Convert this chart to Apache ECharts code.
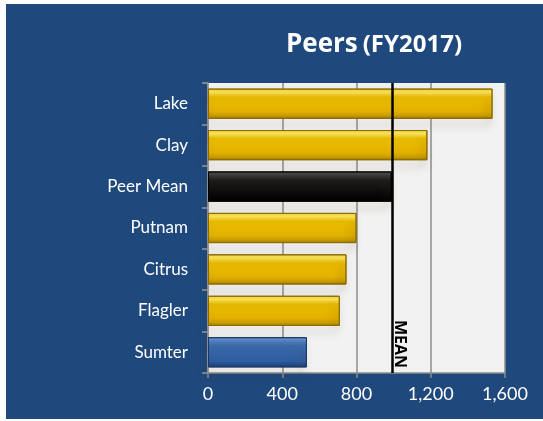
<!DOCTYPE html>
<html>
<head>
<meta charset="utf-8">
<script src="https://cdn.jsdelivr.net/npm/echarts@6/dist/echarts.min.js"></script>
<style>
html,body{margin:0;padding:0;background:#fff;}
#wrap{position:absolute;left:6px;top:4px;width:537px;height:415px;background:#1f497d;}
#chart{position:absolute;left:-6px;top:-4px;width:543px;height:421px;}
</style>
</head>
<body>
<div id="wrap"><div id="chart"></div></div>
<script>
const categories = ['Lake', 'Clay', 'Peer Mean', 'Putnam', 'Citrus', 'Flagler', 'Sumter'];
const values = [1533, 1182, 990, 800, 746, 710, 533];
const barKinds = ['gold', 'gold', 'black', 'gold', 'gold', 'gold', 'blue'];
const meanValue = 990;
const meanLabel = 'MEAN';
const xTicks = [0, 400, 800, 1200, 1600];

function grad(stops) {
  return new echarts.graphic.LinearGradient(0, 0, 0, 1, stops.map((c, i) => ({offset: c[0], color: c[1]})));
}
const styles = {
  gold: {color: grad([[0,'#f0d040'],[0.12,'#ffe85c'],[0.28,'#eec000'],[0.75,'#e2b000'],[0.9,'#c99c00'],[1,'#9c7800']]), borderColor: '#8c6c00'},
  black: {color: grad([[0,'#5a5a5a'],[0.12,'#3c3c3c'],[0.28,'#1c1c1c'],[1,'#000000']]), borderColor: '#000'},
  blue: {color: grad([[0,'#6d98d2'],[0.12,'#5585c6'],[0.28,'#3a6cb0'],[0.8,'#2e5c9e'],[1,'#1d3f74']]), borderColor: '#1a3866'}
};

const chart = echarts.init(document.getElementById('chart'));
chart.setOption({
  backgroundColor: 'transparent',
  title: {
    text: '{a|Peers} {b|(FY2017)}',
    left: 369, top: 27, textAlign: 'center',
    textStyle: {
      rich: {
        a: {fontFamily: 'Open Sans', fontWeight: 'bold', fontSize: 26, color: '#fff'},
        b: {fontFamily: 'Open Sans', fontWeight: 'bold', fontSize: 24, color: '#fff'}
      }
    }
  },
  grid: {left: 208, right: 38, top: 83, bottom: 48, show: true, backgroundColor: '#f2f2f2', borderWidth: 0},
  xAxis: {
    type: 'value', min: 0, max: 1600, interval: 400,
    axisLine: {show: true, lineStyle: {color: '#8a8a8a', width: 1.5}},
    axisTick: {show: true, length: 5, lineStyle: {color: '#8a8a8a', width: 1.5}},
    splitLine: {show: true, lineStyle: {color: '#8c8c8c', width: 1.5}},
    axisLabel: {
      color: '#fff', fontFamily: 'Lato', fontSize: 18, margin: 12,
      formatter: v => xTicks.includes(v) ? v.toLocaleString('en-US') : ''
    }
  },
  yAxis: {
    type: 'category', data: categories, inverse: true,
    axisLine: {show: true, lineStyle: {color: '#9a9a9a', width: 1.5}},
    axisTick: {show: true, length: 6, lineStyle: {color: '#9a9a9a', width: 1.5}},
    axisLabel: {color: '#fff', fontFamily: 'Lato', fontSize: 17, margin: 20}
  },
  series: [{
    type: 'bar',
    barCategoryGap: '27%',
    data: values.map((v, i) => ({
      value: v,
      itemStyle: {
        color: styles[barKinds[i]].color,
        borderColor: styles[barKinds[i]].borderColor,
        borderWidth: 1,
        shadowColor: 'rgba(70,55,0,0.45)', shadowBlur: 8, shadowOffsetX: -3, shadowOffsetY: 6
      }
    })),
    markLine: {
      silent: true, symbol: 'none', animation: false,
      lineStyle: {color: '#000', width: 2.5, type: 'solid'},
      label: {
        show: true, formatter: meanLabel, position: 'insideEndTop',
        color: '#000', fontFamily: 'Open Sans', fontWeight: 'bold', fontSize: 16, distance: [5, 0]
      },
      data: [{xAxis: meanValue}]
    }
  }]
});
</script>
</body>
</html>
